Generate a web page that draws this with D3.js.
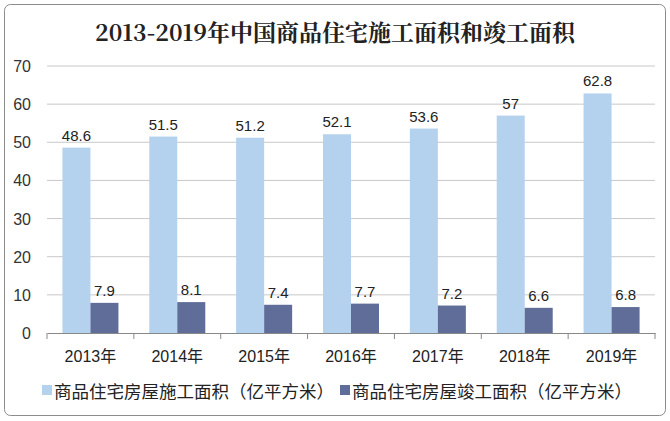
<!DOCTYPE html>
<html><head><meta charset="utf-8">
<script src="https://cdn.jsdelivr.net/npm/d3@7"></script>
<style>body{margin:0;background:#fff}</style></head>
<body><svg id="c" width="670" height="421"></svg>
<script>
const categories=["2013年","2014年","2015年","2016年","2017年","2018年","2019年"];
const construction=[48.6,51.5,51.2,52.1,53.6,57,62.8];
const completed=[7.9,8.1,7.4,7.7,7.2,6.6,6.8];
const yTicks=[0,10,20,30,40,50,60,70];
const seriesNames=["商品住宅房屋施工面积（亿平方米）","商品住宅房屋竣工面积（亿平方米）"];
const colors=["#b4d1ee","#5f6d98"];
const svg=d3.select("#c");
const font="'Liberation Sans','Noto Sans CJK SC',sans-serif";
const cjk="'Noto Sans CJK SC',sans-serif";
svg.append("rect").attr("x",4.5).attr("y",4.5).attr("width",661).attr("height",411).attr("rx",6).attr("fill","#fff").attr("stroke","#8c8c8c");
svg.append("text").attr("x",335).attr("y",41).attr("text-anchor","middle").attr("font-family","'Noto Serif CJK SC','Noto Sans CJK SC',serif").attr("font-weight","bold").attr("font-size",23).attr("fill","#222").text("2013-2019年中国商品住宅施工面积和竣工面积");
const x=d3.scaleBand().domain(categories).range([47,655]);
const y=d3.scaleLinear().domain([0,70]).range([333,66]);
const g=svg.append("g");
g.selectAll(".grid").data(yTicks.slice(1)).join("line").attr("x1",47).attr("x2",655).attr("y1",d=>y(d)).attr("y2",d=>y(d)).attr("stroke","#c8c8c8");
g.selectAll(".yl").data(yTicks).join("text").attr("x",31).attr("y",d=>y(d)+6).attr("text-anchor","end").attr("font-family",font).attr("font-size",16).attr("fill","#333").text(d=>d);
const ax=svg.append("g").attr("transform","translate(0,333)").call(d3.axisBottom(x).tickSize(0).tickFormat(""));
ax.select(".domain").attr("stroke","#888");
const bounds=categories.map(c=>x(c)).concat([655]);
svg.selectAll(".tk").data(bounds).join("line").attr("x1",d=>d).attr("x2",d=>d).attr("y1",333).attr("y2",339).attr("stroke","#888");
const bw=28;
categories.forEach((c,i)=>{
 const cx=x(c)+x.bandwidth()/2;
 [[construction[i],cx-bw,0],[completed[i],cx,1]].forEach(([v,bx,s])=>{
  svg.append("rect").attr("x",bx).attr("y",y(v)).attr("width",bw).attr("height",333-y(v)).attr("fill",colors[s]);
  svg.append("text").attr("x",bx+bw/2).attr("y",y(v)-7).attr("text-anchor","middle").attr("font-family",font).attr("font-size",15).attr("fill","#222").text(v);
 });
 svg.append("text").attr("x",cx).attr("y",362).attr("text-anchor","middle").attr("font-family",font).attr("font-size",16).attr("fill","#222").text(c);
});
const lg=[[42,0],[340,1]];
lg.forEach(([lx,s])=>{
 svg.append("rect").attr("x",lx).attr("y",385).attr("width",10).attr("height",10).attr("fill",colors[s]);
 svg.append("text").attr("x",lx+12).attr("y",398).attr("font-family",cjk).attr("font-size",17.5).attr("fill","#222").text(seriesNames[s]);
});
</script></body></html>
